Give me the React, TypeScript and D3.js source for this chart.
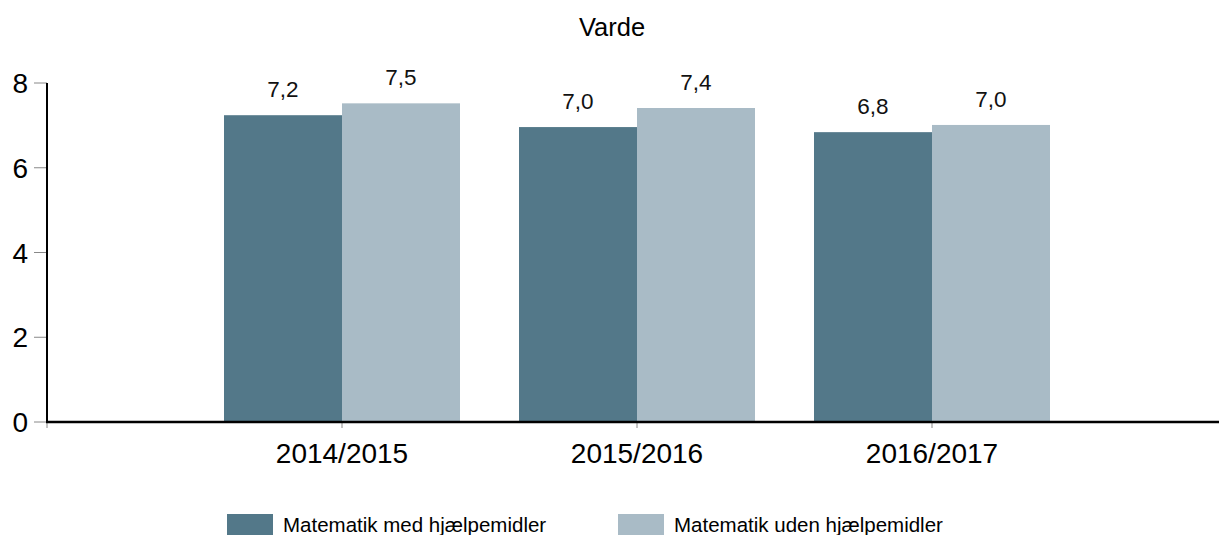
import React, { useEffect, useRef } from 'react'
import * as d3 from 'd3'

const width = 1219
const height = 535

const title = 'Varde'
const categories = ['2014/2015', '2015/2016', '2016/2017']
const seriesNames = ['Matematik med hjælpemidler', 'Matematik uden hjælpemidler']
const medValues = [7.24, 6.96, 6.84]
const udenValues = [7.52, 7.41, 7.01]
const yTicks = [0, 2, 4, 6, 8]

const colors = ['#537889', '#a9bbc6']
const font = '"Liberation Sans", Arial, sans-serif'

const margin = {
    top: 83,
    left: 47,
    bottom: 422
}

export default function App() {
    const node = useRef<SVGSVGElement>(null)

    useEffect(() => {
        document.body.style.margin = '0'

        const svg = d3.select(node.current)
        svg.selectAll('*').remove()

        const x = d3.scalePoint<string>()
            .domain(categories)
            .range([margin.left, margin.left + 295 * 4])
            .padding(1)

        const inner = d3.scaleBand<number>()
            .domain([0, 1])
            .range([-118, 118])

        const y = d3.scaleLinear()
            .domain([0, 8])
            .range([margin.bottom, margin.top])

        const series = [medValues, udenValues]

        // bars
        series.forEach((vals, s) => {
            svg.append('g')
                .attr('fill', colors[s])
              .selectAll('rect')
              .data(vals)
              .join('rect')
                .attr('x', (d, i) => x(categories[i])! + inner(s)!)
                .attr('y', d => y(d))
                .attr('width', inner.bandwidth())
                .attr('height', d => y(0) - y(d))

            svg.append('g')
              .selectAll('text')
              .data(vals)
              .join('text')
                .attr('x', (d, i) => x(categories[i])! + inner(s)! + inner.bandwidth() / 2)
                .attr('y', d => y(d) - 18)
                .attr('text-anchor', 'middle')
                .attr('font-family', font)
                .attr('font-size', 22.5)
                .attr('fill', '#111')
                .text(d => d.toFixed(1).replace('.', ','))
        })

        // y axis
        const yAxis = svg.append('g')
        yAxis.selectAll('line')
            .data(yTicks)
            .join('line')
            .attr('x1', margin.left - 13)
            .attr('x2', margin.left)
            .attr('y1', d => y(d))
            .attr('y2', d => y(d))
            .attr('stroke', '#888')
            .attr('stroke-width', 1)
        yAxis.selectAll('text')
            .data(yTicks)
            .join('text')
            .attr('x', 28)
            .attr('y', d => y(d))
            .attr('dy', '0.36em')
            .attr('text-anchor', 'end')
            .attr('font-family', font)
            .attr('font-size', 28)
            .attr('fill', '#000')
            .text(d => d)
        yAxis.append('line')
            .attr('x1', margin.left)
            .attr('x2', margin.left)
            .attr('y1', y(8))
            .attr('y2', y(0))
            .attr('stroke', '#000')
            .attr('stroke-width', 2)

        // x axis
        const xAxis = svg.append('g')
        xAxis.selectAll('line.tick')
            .data([margin.left, ...categories.map(c => x(c)!)])
            .join('line')
            .attr('class', 'tick')
            .attr('x1', d => d)
            .attr('x2', d => d)
            .attr('y1', y(0))
            .attr('y2', y(0) + 6)
            .attr('stroke', '#888')
        xAxis.append('line')
            .attr('x1', margin.left - 1)
            .attr('x2', width)
            .attr('y1', y(0))
            .attr('y2', y(0))
            .attr('stroke', '#000')
            .attr('stroke-width', 2.5)
        xAxis.selectAll('text')
            .data(categories)
            .join('text')
            .attr('x', d => x(d)!)
            .attr('y', 463)
            .attr('text-anchor', 'middle')
            .attr('font-family', font)
            .attr('font-size', 28)
            .attr('fill', '#000')
            .text(d => d)

        // title
        svg.append('text')
            .attr('x', 612)
            .attr('y', 36)
            .attr('text-anchor', 'middle')
            .attr('font-family', font)
            .attr('font-size', 25.5)
            .attr('fill', '#000')
            .text(title)

        // legend
        const legendX = [227, 618]
        const legend = svg.append('g')
          .selectAll('g')
          .data(seriesNames)
          .join('g')
            .attr('transform', (d, i) => `translate(${legendX[i]},514)`)
        legend.append('rect')
            .attr('width', 46)
            .attr('height', 22)
            .attr('fill', (d, i) => colors[i])
        legend.append('text')
            .attr('x', 56)
            .attr('y', 18)
            .attr('font-family', font)
            .attr('font-size', 20.5)
            .attr('fill', '#000')
            .text(d => d)
    }, [])

    return (
        <svg ref={node} width={width} height={height} style={{ display: 'block', background: '#fff' }} />
    )
}
